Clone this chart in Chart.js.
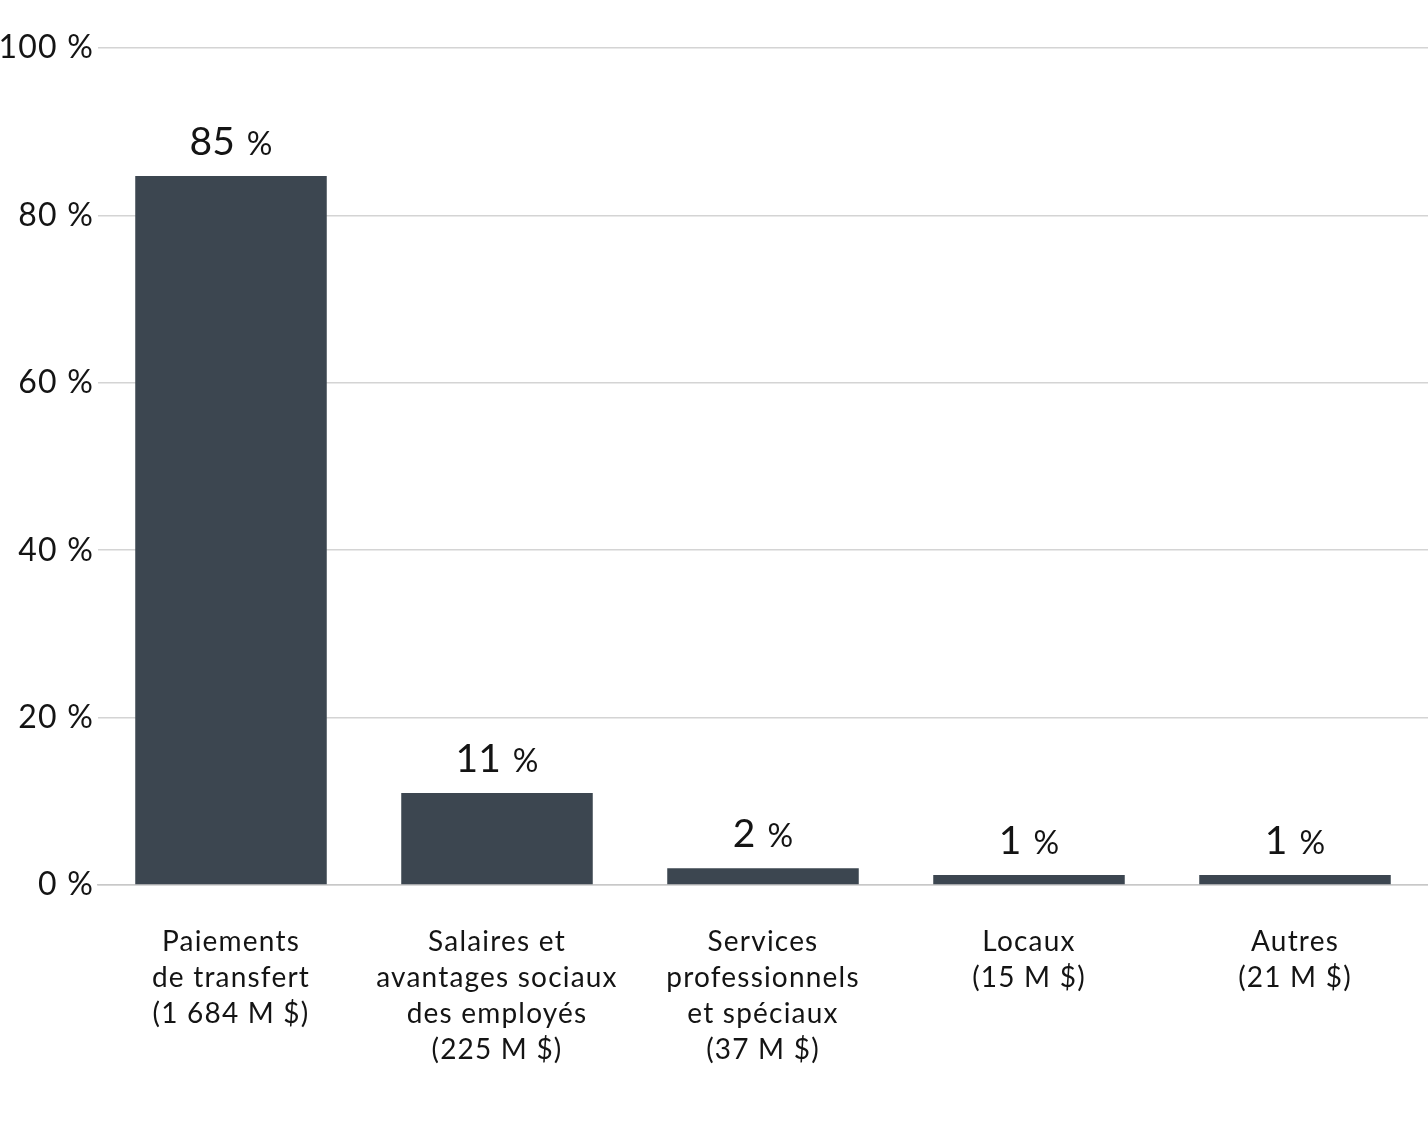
<!DOCTYPE html>
<html>
<head>
<meta charset="utf-8">
<script src="https://cdn.jsdelivr.net/npm/chart.js@4"></script>
<style>
  html, body { margin: 0; padding: 0; background: #fff; }
</style>
</head>
<body>
<canvas id="chart" width="1428" height="1146"></canvas>
<script>
// categories (multi-line labels) and values
const categories = [
  ['Paiements', 'de transfert', '(1 684 M $)'],
  ['Salaires et', 'avantages sociaux', 'des employés', '(225 M $)'],
  ['Services', 'professionnels', 'et spéciaux', '(37 M $)'],
  ['Locaux', '(15 M $)'],
  ['Autres', '(21 M $)']
];
const shares = [84.7, 11, 2, 1.2, 1.2];
const shareLabels = ['85', '11', '2', '1', '1'];
const yTicks = [0, 20, 40, 60, 80, 100];

const FONT = 'Lato, "Open Sans", sans-serif';
const TEXT = '#141414';

// the original font is wider than Lato, so open the letters up a little
const spacing = {
  id: 'spacing',
  beforeDraw(chart) { chart.ctx.letterSpacing = '1.2px'; }
};

// draws "85 %" above each bar, with a smaller percent sign
const valueLabels = {
  id: 'valueLabels',
  afterDatasetsDraw(chart) {
    const ctx = chart.ctx;
    const meta = chart.getDatasetMeta(0);
    ctx.save();
    ctx.letterSpacing = '0px';
    ctx.fillStyle = TEXT;
    ctx.textBaseline = 'alphabetic';
    ctx.textAlign = 'left';
    meta.data.forEach(function(bar, i) {
      const num = shareLabels[i];
      ctx.font = '39px ' + FONT;
      const wNum = ctx.measureText(num).width;
      ctx.font = '32px ' + FONT;
      const wPct = ctx.measureText('%').width;
      const gap = 12;
      const x0 = bar.x - (wNum + gap + wPct) / 2;
      const y = bar.y - 21;
      ctx.font = '39px ' + FONT;
      ctx.fillText(num, x0, y);
      ctx.font = '32px ' + FONT;
      ctx.fillText('%', x0 + wNum + gap, y);
    });
    ctx.restore();
  }
};

new Chart(document.getElementById('chart'), {
  type: 'bar',
  data: {
    labels: categories,
    datasets: [{
      data: shares,
      backgroundColor: '#3c4650',
      barPercentage: 0.72,
      categoryPercentage: 1
    }]
  },
  options: {
    responsive: false,
    animation: false,
    devicePixelRatio: 1,
    layout: { padding: { top: 48, right: 0, left: 0, bottom: 0 } },
    plugins: {
      legend: { display: false },
      tooltip: { enabled: false }
    },
    scales: {
      x: {
        grid: { display: false },
        border: { color: '#c8c8c8', width: 1.5 },
        ticks: {
          color: TEXT,
          font: { family: FONT, size: 28, lineHeight: 1.29 },
          padding: 31,
          maxRotation: 0,
          autoSkip: false
        },
        afterFit(axis) { axis.height = 261; }
      },
      y: {
        min: 0,
        max: 100,
        afterBuildTicks(axis) { axis.ticks = yTicks.map(v => ({ value: v })); },
        grid: { color: '#d4d4d4', lineWidth: 1.5, drawTicks: false },
        border: { display: false },
        ticks: {
          color: TEXT,
          font: { family: FONT, size: 32 },
          padding: 4,
          callback: v => v + ' %'
        },
        afterFit(axis) { axis.width = 98; }
      }
    }
  },
  plugins: [spacing, valueLabels]
});
</script>
</body>
</html>
